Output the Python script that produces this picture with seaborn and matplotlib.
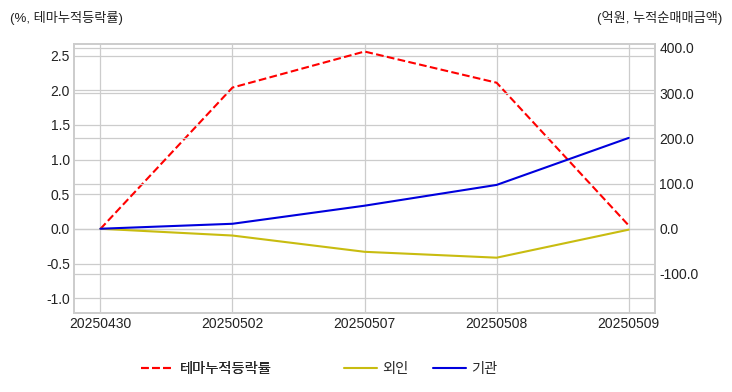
import pandas as pd
import seaborn as sns
import matplotlib.pyplot as plt

# values
dates = ['20250430', '20250502', '20250507', '20250508', '20250509']
theme_return = [0.0, 2.04, 2.56, 2.11, 0.05]   # %, left axis
foreign = [0.0, -15, -51, -64, -2]              # 억원, right axis
institution = [0.0, 11, 51, 97, 201]            # 억원, right axis

sns.set_style('whitegrid')
plt.rcParams['font.family'] = ['Liberation Sans', 'Noto Sans CJK KR']
plt.rcParams['axes.unicode_minus'] = False

df = pd.DataFrame({'date': dates, 'theme': theme_return,
                   'foreign': foreign, 'inst': institution})
df['x'] = range(len(df))

fig = plt.figure(figsize=(7.32, 3.92), dpi=100)
ax = fig.add_axes([0.101, 0.202, 0.794, 0.686])
ax2 = ax.twinx()

sns.lineplot(data=df, x='x', y='theme', ax=ax, color='red', linestyle='--',
             linewidth=1.5, label='테마누적등락률', legend=False)
sns.lineplot(data=df, x='x', y='foreign', ax=ax2, color='#c8bc10',
             linewidth=1.5, label='외인', legend=False)
sns.lineplot(data=df, x='x', y='inst', ax=ax2, color='#0000dd',
             linewidth=1.5, label='기관', legend=False)

ax.set_xlim(-0.2, len(dates) - 0.8)
ax.set_xticks(df['x'])
ax.set_xticklabels(dates)
ax.set_ylim(-1.21, 2.67)
ax.set_yticks([-1.0, -0.5, 0.0, 0.5, 1.0, 1.5, 2.0, 2.5])
ax.set_yticklabels([f'{v:.1f}' for v in ax.get_yticks()])
ax2.set_ylim(-186, 409)
ax2.set_yticks([-100, 0, 100, 200, 300, 400])
ax2.set_yticklabels([f'{v:.1f}' for v in ax2.get_yticks()])

for a in (ax, ax2):
    a.set_xlabel('')
    a.set_ylabel('')
    a.tick_params(labelsize=10, colors='#222222', length=0, pad=3)
    a.grid(True, color='#cccccc', linewidth=0.9)
    for s in a.spines.values():
        s.set_color('#cccccc')
        s.set_linewidth(1.2)

fig.text(0.013, 0.955, '(%, 테마누적등락률)', fontsize=9.5, ha='left', va='center', color='#222222')
fig.text(0.986, 0.955, '(억원, 누적순매매금액)', fontsize=9.5, ha='right', va='center', color='#222222')

h1, l1 = ax.get_legend_handles_labels()
h2, l2 = ax2.get_legend_handles_labels()
leg1 = fig.legend(h1, l1, loc='center left', bbox_to_anchor=(0.175, 0.058),
                  frameon=False, fontsize=10.3, handlelength=2.3, handletextpad=0.4)
fig.add_artist(leg1)
fig.legend(h2, l2, loc='center left', bbox_to_anchor=(0.452, 0.058), ncol=2,
           frameon=False, fontsize=10.3, handlelength=2.3, handletextpad=0.4,
           columnspacing=1.7)

fig.savefig('out.png', dpi=100)
